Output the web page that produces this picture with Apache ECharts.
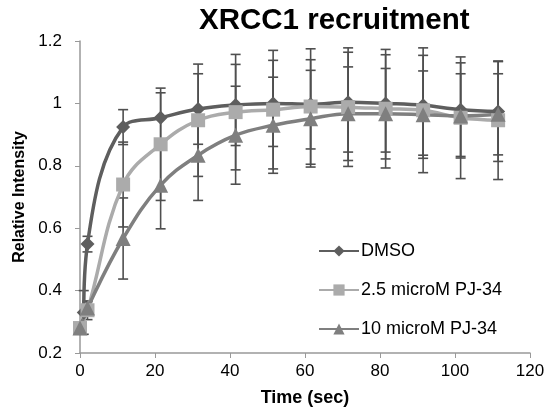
<!DOCTYPE html>
<html>
<head>
<meta charset="utf-8">
<script src="https://cdn.jsdelivr.net/npm/echarts@6/dist/echarts.min.js"></script>
<style>html,body{margin:0;padding:0;background:#fff;}#c{width:550px;height:416px;}</style>
</head>
<body>
<div id="c"></div>
<script>
var time = [0, 2, 11.5, 21.5, 31.5, 41.5, 51.5, 61.5, 71.5, 81.5, 91.5, 101.5, 111.5];
var dmsoTime = [1, 2, 11.5, 21.5, 31.5, 41.5, 51.5, 61.5, 71.5, 81.5, 91.5, 101.5, 111.5];
var dmso = [0.33, 0.549, 0.924, 0.954, 0.982, 0.995, 1.0, 0.997, 1.004, 1.0, 0.994, 0.98, 0.974];
var dmsoErr = [0.07, 0.025, 0.056, 0.08, 0.113, 0.13, 0.138, 0.143, 0.16, 0.156, 0.16, 0.15, 0.16];
var pj25 = [0.28, 0.337, 0.74, 0.869, 0.946, 0.972, 0.98, 0.99, 0.988, 0.983, 0.978, 0.954, 0.946];
var pj25Err = [0.01, 0.03, 0.136, 0.18, 0.18, 0.185, 0.19, 0.185, 0.19, 0.19, 0.2, 0.195, 0.19];
var pj10 = [0.28, 0.344, 0.567, 0.738, 0.834, 0.898, 0.93, 0.951, 0.967, 0.967, 0.964, 0.96, 0.965];
var pj10Err = [0.01, 0.02, 0.13, 0.14, 0.145, 0.157, 0.154, 0.155, 0.15, 0.145, 0.14, 0.135, 0.13];
var names = ['DMSO', '2.5 microM PJ-34', '10 microM PJ-34'];

var FONT = 'Liberation Sans, Arial, sans-serif';

function pairs(t, v) { return t.map(function (x, i) { return [x, v[i]]; }); }
function errData(t, v, e) { return t.map(function (x, i) { return [x, v[i] - e[i], v[i] + e[i]]; }); }
function errSeries(t, v, e) {
  return {
    type: 'custom',
    z: 1,
    silent: true,
    data: errData(t, v, e),
    encode: { x: 0, y: [1, 2] },
    renderItem: function (params, api) {
      var x = api.value(0);
      var lo = api.coord([x, api.value(1)]);
      var hi = api.coord([x, api.value(2)]);
      var w = 5;
      var st = { stroke: '#4f4f4f', lineWidth: 1.6 };
      return {
        type: 'group',
        children: [
          { type: 'line', shape: { x1: lo[0], y1: lo[1], x2: hi[0], y2: hi[1] }, style: st },
          { type: 'line', shape: { x1: lo[0] - w, y1: lo[1], x2: lo[0] + w, y2: lo[1] }, style: st },
          { type: 'line', shape: { x1: hi[0] - w, y1: hi[1], x2: hi[0] + w, y2: hi[1] }, style: st }
        ]
      };
    }
  };
}
function lineSeries(name, t, v, color, symbol, size) {
  return {
    name: name,
    type: 'line',
    z: 3,
    smooth: 0.4,
    data: pairs(t, v),
    symbol: symbol,
    symbolSize: size,
    itemStyle: { color: color },
    lineStyle: { color: color, width: 3.5 }
  };
}

var chart = echarts.init(document.getElementById('c'));
chart.setOption({
  animation: false,
  title: {
    text: 'XRCC1 recruitment',
    left: 194, top: 1,
    textStyle: { fontFamily: FONT, fontWeight: 'bold', fontSize: 29.5, color: '#000' }
  },
  legend: {
    orient: 'vertical',
    left: 313, top: 237,
    itemWidth: 40, itemHeight: 14, itemGap: 21,
    textStyle: { fontFamily: FONT, fontSize: 18, color: '#000', padding: [0, 0, 0, -3] },
    data: names
  },
  grid: { left: 80, right: 20, top: 41, bottom: 63 },
  xAxis: {
    type: 'value', min: 0, max: 120, interval: 20,
    name: 'Time (sec)', nameLocation: 'middle', nameGap: 36,
    nameTextStyle: { fontFamily: FONT, fontWeight: 'bold', fontSize: 18, color: '#000' },
    axisLine: { lineStyle: { color: '#999', width: 1.5 } },
    axisTick: { length: 5, lineStyle: { color: '#999' } },
    axisLabel: { fontFamily: FONT, fontSize: 17, color: '#000', margin: 10 },
    splitLine: { show: false }
  },
  yAxis: {
    type: 'value', min: 0.2, max: 1.2, interval: 0.2,
    name: 'Relative Intensity', nameLocation: 'middle', nameGap: 46,
    nameTextStyle: { fontFamily: FONT, fontWeight: 'bold', fontSize: 16, color: '#000' },
    axisLine: { show: true, lineStyle: { color: '#999', width: 1.5 } },
    axisTick: { show: true, length: 5, lineStyle: { color: '#999' } },
    axisLabel: { fontFamily: FONT, fontSize: 17, color: '#000', margin: 18 },
    splitLine: { show: false }
  },
  series: [
    errSeries(dmsoTime, dmso, dmsoErr),
    errSeries(time, pj25, pj25Err),
    errSeries(time, pj10, pj10Err),
    lineSeries(names[0], dmsoTime, dmso, '#5e5e5e', 'diamond', 14),
    lineSeries(names[1], time, pj25, '#ababab', 'rect', 14),
    lineSeries(names[2], time, pj10, '#7f7f7f', 'triangle', 15)
  ]
});
</script>
</body>
</html>
